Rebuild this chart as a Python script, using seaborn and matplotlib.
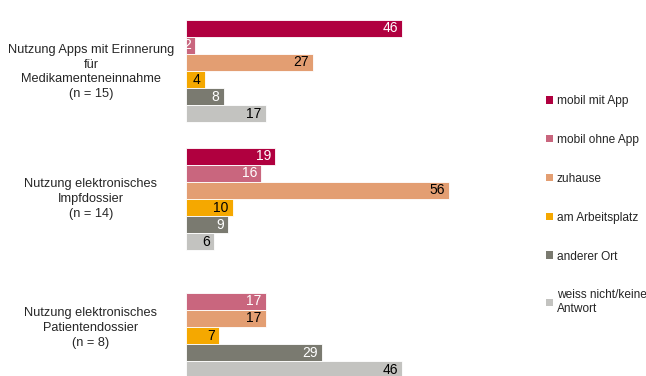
import numpy as np
import pandas as pd
import matplotlib
matplotlib.use("Agg")
import matplotlib.pyplot as plt
import seaborn as sns
from matplotlib.patches import Patch

groups = [
    "Nutzung Apps mit Erinnerung\nfür\nMedikamenteneinnahme\n(n = 15)",
    "Nutzung elektronisches\nImpfdossier\n(n = 14)",
    "Nutzung elektronisches\nPatientendossier\n(n = 8)",
]
series = ["mobil mit App", "mobil ohne App", "zuhause", "am Arbeitsplatz",
          "anderer Ort", "weiss nicht/keine\nAntwort"]
values = {
    "mobil mit App":   [46, 19, None],
    "mobil ohne App":  [2, 16, 17],
    "zuhause":         [27, 56, 17],
    "am Arbeitsplatz": [4, 10, 7],
    "anderer Ort":     [8, 9, 29],
    "weiss nicht/keine\nAntwort": [17, 6, 46],
}
colors = ["#B0003F", "#C9667E", "#E39E72", "#F5A800", "#7A7A70", "#C3C3C0"]
label_colors = ["white", "white", "black", "black", "white", "black"]

rows = []
for s in series:
    for g, v in zip(groups, values[s]):
        if v is not None:
            rows.append({"group": g, "series": s, "value": v})
df = pd.DataFrame(rows)

sns.set_theme(style="white")
plt.rcParams["font.family"] = ["Liberation Sans", "DejaVu Sans"]

W, H = 646, 376
fig = plt.figure(figsize=(W / 100, H / 100), dpi=100)
x0, x1 = 186, 520
ax = fig.add_axes([x0 / W, 0, (x1 - x0) / W, 1])

sns.barplot(data=df, y="group", x="value", hue="series", order=groups,
            hue_order=series, palette=colors, saturation=1, orient="h",
            width=0.8, edgecolor="white", linewidth=0.6, ax=ax, legend=False)

px_per_unit = 4.7
ax.set_xlim(0, (x1 - x0) / px_per_unit)
ypx = 128.0
top = -71 / ypx
bottom = (H - 71) / ypx
ax.set_ylim(bottom, top)

# value labels
for i, s in enumerate(series):
    cont = ax.containers[i]
    labs = [f"{int(b.get_width())}" for b in cont]
    ax.bar_label(cont, labels=labs, padding=-3, color=label_colors[i],
                 fontsize=10)
    for t in ax.texts[-len(cont):]:
        t.set_ha("right")

ax.set_yticks([])
ax.set_xticks([])
ax.set_ylabel("")
ax.set_xlabel("")
label_y = [72, 199, 328]
for g, yy in zip(groups, label_y):
    fig.text(91 / W, 1 - yy / H, g, ha="center", va="center", fontsize=9.2,
             linespacing=1.3, multialignment="center")

for sp in ax.spines.values():
    sp.set_visible(False)

handles = [Patch(facecolor=c, edgecolor="none") for c in colors]
fig.legend(handles, series, loc="upper left",
           bbox_to_anchor=(546 / W, 1 - 95 / H), frameon=False, fontsize=8.6,
           handlelength=0.6, handleheight=0.6, handletextpad=0.3,
           labelspacing=2.25, borderaxespad=0, borderpad=0)

fig.savefig("out.png", dpi=100)
